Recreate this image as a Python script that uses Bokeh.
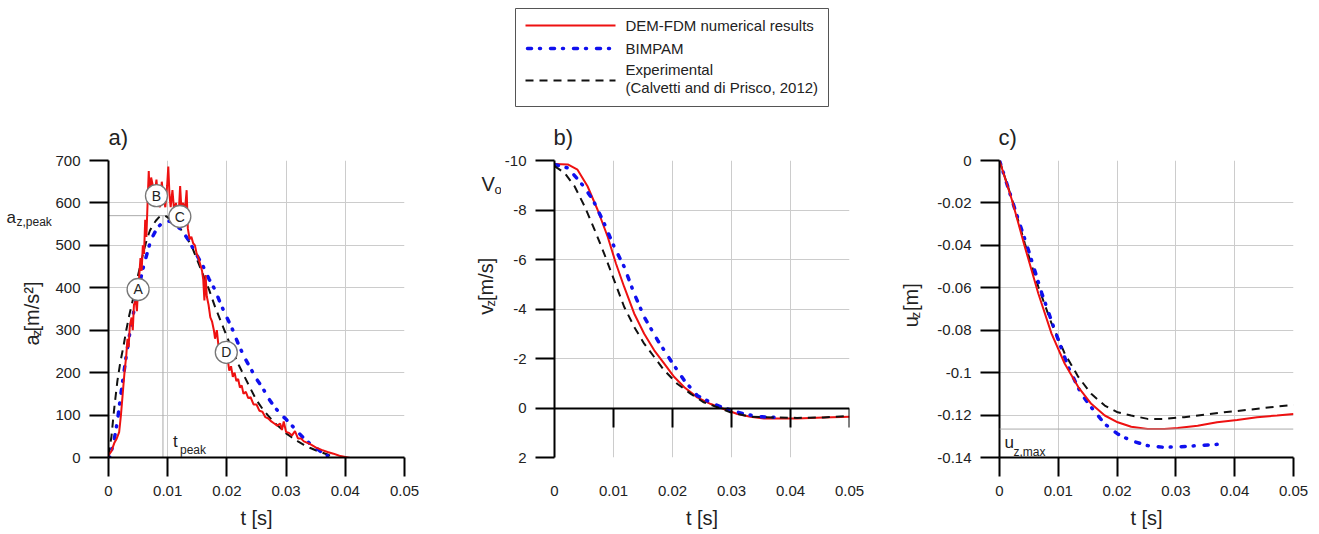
import math
from bokeh.plotting import figure
from bokeh.layouts import column, row
from bokeh.models import Range1d, FixedTicker, CustomJSTickFormatter, LinearAxis, Label, Span
from bokeh.core.properties import value
from bokeh.embed import file_html
from bokeh.resources import INLINE

# ---------------- data ----------------
t_ticks = [0, 0.01, 0.02, 0.03, 0.04, 0.05]
a_ticks = [0, 100, 200, 300, 400, 500, 600, 700]
v_ticks = [-10, -8, -6, -4, -2, 0, 2]
u_ticks = [0, -0.02, -0.04, -0.06, -0.08, -0.1, -0.12, -0.14]

# panel a) acceleration (t in ms, a in m/s2)
red_a_ms = [0, 0.5, 1.0, 1.4, 1.8, 2.1, 2.4, 2.7, 3.0, 3.2, 3.4, 3.6, 3.9, 4.1, 4.3, 4.6, 4.8, 5.0, 5.2, 5.4,
            5.6, 5.8, 6.0, 6.2, 6.4, 6.6, 6.8, 7.0, 7.2, 7.5, 7.8, 8.1, 8.4, 8.7, 9.0, 9.3, 9.6, 9.9, 10.1, 10.3,
            10.5, 10.8, 11.1, 11.4, 11.8, 12.1, 12.3, 12.6, 12.9, 13.2, 13.4, 13.7, 14.0, 14.3, 14.6, 14.9, 15.2,
            15.5, 15.8, 16.0, 16.2, 16.4, 16.6, 16.9, 17.2, 17.5, 17.8, 18.0, 18.3, 18.6, 18.9, 19.2, 19.5, 19.8,
            20.1, 20.4, 20.7, 21.0, 21.3, 21.6, 21.9, 22.2, 22.5, 22.8, 23.2, 23.6, 24.0, 24.5, 25.0, 25.5, 26.0,
            26.5, 27.0, 27.5, 28.0, 28.5, 29.0, 29.3, 29.6, 30.0, 30.5, 31.0, 31.5, 32.0, 32.5, 33.0, 34.0, 35.0,
            36.0, 37.0, 38.0, 39.0, 40.0, 41.0, 42.0, 43.0, 44.0, 45.0, 46.0, 47.0, 48.0, 50.0]
red_a = [5, 15, 35, 45, 60, 100, 150, 200, 240, 280, 260, 310, 330, 300, 360, 370, 345, 400, 430, 470,
         440, 500, 480, 560, 520, 600, 675, 600, 660, 640, 620, 655, 600, 590, 650, 610, 590, 640, 686, 620,
         590, 630, 580, 600, 560, 640, 590, 600, 580, 630, 540, 515, 520, 505, 500, 480, 470,
         455, 440, 420, 370, 430, 380, 360, 330, 320, 300, 280, 300, 260, 265, 240, 250, 225,
         235, 205, 215, 190, 200, 180, 185, 165, 170, 150, 155, 140, 142, 125, 125, 110, 108,
         95, 92, 85, 80, 75, 80, 65, 85, 60, 58, 52, 62, 45, 45, 38, 32, 24,
         18, 13, 9, 4, 1, -2, -5, -7, -9, -10, -10, -11, -11, -12]
blue_a_ms = [0, 0.5, 1.0, 1.5, 2.0, 2.5, 3.0, 3.5, 4.0, 4.5, 5.0, 5.5, 6.0, 6.5, 7.0, 7.5, 8.0, 8.5, 9.0, 9.5,
             10.0, 10.5, 11.0, 11.5, 12.0, 12.5, 13.0, 13.5, 14.0, 15.0, 16.0, 17.0, 18.0, 19.0, 20.0, 21.0,
             22.0, 23.0, 24.0, 25.0, 26.0, 27.0, 28.0, 29.0, 30.0, 31.0, 32.0, 33.0, 34.0, 35.0, 36.0, 37.0]
blue_a = [-8, 15, 45, 85, 140, 190, 240, 285, 325, 360, 390, 425, 455, 480, 505, 522, 535, 545, 552, 556,
          557, 556, 552, 547, 540, 532, 523, 513, 500, 475, 450, 420, 395, 360, 330, 300,
          265, 235, 210, 185, 165, 140, 120, 103, 90, 75, 60, 45, 33, 23, 12, 4]
black_a_ms = [0, 0.5, 1.0, 1.5, 2.0, 2.5, 3.0, 3.5, 4.0, 4.5, 5.0, 5.5, 6.0, 6.5, 7.0, 7.5, 8.0, 8.5, 9.0, 9.5,
              10.0, 11.0, 12.0, 13.0, 14.0, 15.0, 16.0, 17.0, 18.0, 19.0, 20.0, 21.0, 22.0, 23.0, 24.0, 25.0,
              26.0, 27.0, 28.0, 29.0, 30.0, 31.0, 32.0, 33.0, 34.0, 35.0, 36.0, 37.0, 37.5]
black_a = [5, 50, 120, 180, 225, 260, 300, 335, 365, 395, 430, 460, 490, 515, 535, 548, 558, 566, 570, 570,
           566, 555, 542, 522, 500, 465, 430, 395, 355, 320, 285, 250, 218, 190, 162, 135,
           115, 98, 82, 70, 57, 47, 38, 30, 23, 17, 12, 7, 4]
a_peak = 570
t_peak = 0.0092
marker_names = ["A", "B", "C", "D"]
marker_t = [0.0050, 0.0081, 0.01205, 0.0199]
marker_a = [396, 617, 568, 248]

# panel b) velocity
red_v_ms = [0, 2.25, 3.9, 5.6, 7.3, 9.0, 10.4, 11.8, 13.5, 15.2, 16.9, 18.6, 20.3, 22.0, 24.2, 26.5, 28.7,
            31.0, 33.2, 35.5, 38.3, 41.1, 45.6, 50.0]
red_v = [-9.86, -9.84, -9.63, -8.96, -8.01, -6.93, -5.85, -4.90, -3.82, -3.00, -2.33, -1.79, -1.25, -0.84,
         -0.43, -0.16, 0.04, 0.24, 0.35, 0.42, 0.42, 0.42, 0.38, 0.35]
blue_v_ms = [0, 2.25, 4.5, 6.5, 8.4, 10.1, 11.8, 13.5, 15.2, 17.5, 19.7, 22.0, 24.2, 26.5, 28.2, 30.4, 32.7,
             34.9, 37.5]
blue_v = [-9.84, -9.70, -9.09, -8.42, -7.47, -6.52, -5.71, -4.63, -3.68, -2.73, -1.92, -1.11, -0.50, -0.22,
          -0.05, 0.13, 0.27, 0.35, 0.38]
black_v_ms = [0, 1.7, 3.4, 5.1, 6.8, 8.4, 10.1, 11.8, 13.5, 15.2, 16.9, 18.6, 20.8, 23.1, 25.3, 27.6, 29.8,
              33.2, 37.2, 41.1, 45.6, 50.0]
black_v = [-9.77, -9.50, -8.96, -8.15, -7.20, -6.25, -5.17, -4.09, -3.28, -2.60, -2.06, -1.52, -0.98, -0.57,
           -0.23, -0.03, 0.17, 0.35, 0.38, 0.40, 0.38, 0.32]

# panel c) displacement
red_u_ms = [0, 2.1, 4.3, 6.6, 8.85, 11.1, 13.4, 15.6, 17.9, 20.1, 22.4, 25.2, 28.0, 30.3, 33.7, 37.0, 40.4,
            43.8, 47.2, 50.0]
red_u = [0, -0.0185, -0.0406, -0.0627, -0.0816, -0.0958, -0.1068, -0.1147, -0.1202, -0.1234, -0.1255,
         -0.1266, -0.1266, -0.1261, -0.1250, -0.1234, -0.1223, -0.1210, -0.1202, -0.1195]
blue_u_ms = [0, 2.65, 4.9, 7.2, 9.4, 11.7, 13.9, 15.6, 17.9, 20.1, 22.4, 25.2, 28.0, 30.8, 33.7, 37.6]
blue_u = [0, -0.0232, -0.0421, -0.0626, -0.0800, -0.0974, -0.1100, -0.1163, -0.1242, -0.1289, -0.1321,
          -0.1344, -0.1352, -0.1349, -0.1344, -0.1337]
black_u_ms = [0, 2.1, 4.3, 6.6, 8.85, 11.1, 13.4, 15.6, 17.9, 20.1, 22.4, 25.2, 28.0, 31.4, 34.8, 38.2,
              42.1, 46.1, 50.0]
black_u = [0, -0.0180, -0.0390, -0.0595, -0.0768, -0.0910, -0.1020, -0.1100, -0.1155, -0.1187, -0.1202,
           -0.1218, -0.1218, -0.1210, -0.1198, -0.1187, -0.1176, -0.1163, -0.1152]
u_max = -0.1266

legend_labels = ["DEM-FDM numerical results", "BIMPAM", "Experimental", "(Calvetti and di Prisco, 2012)"]
panel_titles = ["a)", "b)", "c)"]


def sec(ms):
    return [m / 1000.0 for m in ms]


# ---------------- styles ----------------
FONT = "Liberation Sans"
TXT = "#222222"
RED = dict(line_color="#ee1111", line_width=2)
BLUE = dict(line_color="#1010ee", line_width=3.5, line_dash="4 8 1 10", line_cap="round")
BLACK = dict(line_color="#111111", line_width=2, line_dash="8 6")
ROW_H = 384
TOP_H = 150
ROT_SHIFT = 28   # compensation for where rotated text lands in the side canvases

fmt = CustomJSTickFormatter(code="""
let s = tick.toFixed(2);
s = s.replace(/0+$/, '');
s = s.replace(/\\.$/, '');
if (s === '-0') { s = '0'; }
return s;
""")


def style_axis(ax):
    ax.axis_line_width = 2
    ax.axis_line_color = "black"
    ax.major_tick_line_width = 2
    ax.major_tick_line_color = "black"
    ax.major_tick_out = 19
    ax.major_tick_in = 0
    ax.minor_tick_line_color = None
    ax.major_label_text_font = FONT
    ax.major_label_text_font_size = "15px"
    ax.major_label_text_color = TXT
    ax.major_label_standoff = 9
    ax.formatter = fmt


def make_panel(width, left_border, right_border, y_start, y_end, y_ticks):
    p = figure(width=width, height=ROW_H, x_range=Range1d(0, 0.05), y_range=Range1d(y_start, y_end),
               output_backend="svg", toolbar_location=None,
               min_border_left=left_border, min_border_right=right_border,
               min_border_top=10, min_border_bottom=77)
    p.outline_line_color = None
    p.xaxis.ticker = FixedTicker(ticks=t_ticks)
    p.yaxis.ticker = FixedTicker(ticks=y_ticks)
    for ax in p.axis:
        style_axis(ax)
    p.xaxis.axis_label = "t [s]"
    p.xaxis.axis_label_text_font = FONT
    p.xaxis.axis_label_text_font_size = "20px"
    p.xaxis.axis_label_text_font_style = "normal"
    p.xaxis.axis_label_text_color = TXT
    p.xaxis.axis_label_standoff = 8
    p.grid.grid_line_color = "#cccccc"
    p.grid.grid_line_width = 1
    return p


def text_fig(width, height):
    # a plain pixel-space canvas (y grows downward) for texts placed beside a panel
    f = figure(width=width, height=height, x_range=Range1d(0, width), y_range=Range1d(height, 0),
               output_backend="svg", toolbar_location=None, min_border=0,
               x_axis_location=None, y_axis_location=None)
    f.outline_line_color = None
    f.grid.visible = False
    return f


def txt(f, x, y, text, size, angle=0.0, align="left"):
    f.text([x], [y], text=[text], angle=angle, text_font=value(FONT), text_font_size=size,
           text_color=TXT, text_align=align, text_baseline="middle")


def ylabel(f, x, y_main, y_sub, y_rest, main, sub, rest):
    # rotated label reading bottom-to-top; each piece placed by its centre
    up = math.pi / 2
    txt(f, x, y_main + ROT_SHIFT, main, "20px", up, "center")
    txt(f, x + 5, y_sub + ROT_SHIFT, sub, "13px", up, "center")
    txt(f, x, y_rest + ROT_SHIFT, rest, "20px", up, "center")


def lab(p, x, y, text, xo, yo, size="17px"):
    p.add_layout(Label(x=x, y=y, x_offset=xo, y_offset=yo, text=text,
                       text_font=FONT, text_font_size=size, text_color=TXT,
                       text_align="left", text_baseline="middle"))


# ---------------- panel a ----------------
ta = text_fig(52, ROW_H)
ylabel(ta, 31, 204, 195, 160.75, "a", "z", "[m/s²]")
txt(ta, 6, 74, "a", "17px")
txt(ta, 16, 80, "z,peak", "12px")

pa = make_panel(393, 56, 41, 0, 700, a_ticks)
pa.line([0, marker_t[2]], [a_peak, a_peak], line_color="#aaaaaa", line_width=1)
pa.line([t_peak, t_peak], [0, a_peak], line_color="#aaaaaa", line_width=1)
pa.line(sec(black_a_ms), black_a, **BLACK)
pa.line(sec(blue_a_ms), blue_a, **BLUE)
pa.line(sec(red_a_ms), red_a, **RED)
pa.scatter(marker_t, marker_a, marker="circle", size=22, fill_color="white", line_color="#777777", line_width=1.3)
pa.text(marker_t, marker_a, text=marker_names, text_font=value(FONT), text_font_size="14px",
        text_color=TXT, text_align="center", text_baseline="middle")
lab(pa, t_peak, 0, "t", 10, 16, size="17px")
lab(pa, t_peak, 0, "peak", 17, 8, size="12px")

# ---------------- panel b ----------------
tb = text_fig(56, ROW_H)
ylabel(tb, 40, 165, 156.5, 125.75, "v", "z", "[m/s]")
txt(tb, 36, 31, "V", "20px")
txt(tb, 49, 38, "o", "13px")

pb = make_panel(389, 52, 41, 2, -10, v_ticks)
pb.xaxis.axis_line_color = None
pb.xaxis.major_tick_line_color = None
zero_axis = LinearAxis(ticker=FixedTicker(ticks=t_ticks[1:]), fixed_location=0)
style_axis(zero_axis)
zero_axis.major_label_text_color = None
pb.add_layout(zero_axis, "below")
pb.line(sec(red_v_ms), red_v, **RED)
pb.line(sec(blue_v_ms), blue_v, **BLUE)
pb.line(sec(black_v_ms), black_v, **BLACK)

# ---------------- panel c ----------------
tc = text_fig(44, ROW_H)
ylabel(tc, 20, 180.5, 171.75, 148.6, "u", "z", "[m]")

pc = make_panel(385, 64, 26, -0.14, 0, u_ticks)
pc.add_layout(Span(location=u_max, dimension="width", line_color="#aaaaaa", line_width=1))
pc.line(sec(black_u_ms), black_u, **BLACK)
pc.line(sec(blue_u_ms), blue_u, **BLUE)
pc.line(sec(red_u_ms), red_u, **RED)
lab(pc, 0, -0.14, "u", 5, 15, size="17px")
lab(pc, 0, -0.14, "z,max", 14, 6, size="12px")

# ---------------- legend + panel letters ----------------
lg = text_fig(1319, TOP_H)
lg.quad(left=[515], right=[828], top=[8], bottom=[106], fill_color=None, line_color="#555555", line_width=1)
lg.line([525, 615], [25, 25], **RED)
lg.line([527, 615], [48, 48], **BLUE)
lg.line([525, 615], [80, 80], **BLACK)
lg.text([625, 625, 625, 625], [25, 48, 69, 87], text=legend_labels, text_font=value(FONT),
        text_font_size="15px", text_color=TXT, text_align="left", text_baseline="middle")
lg.text([108, 553, 998], [137, 137, 137], text=panel_titles, text_font=value(FONT),
        text_font_size="22px", text_color=TXT, text_align="left", text_baseline="middle")

layout = column(lg, row(ta, pa, tb, pb, tc, pc, spacing=0), spacing=0)
open("out.html", "w").write(file_html(layout, INLINE))
